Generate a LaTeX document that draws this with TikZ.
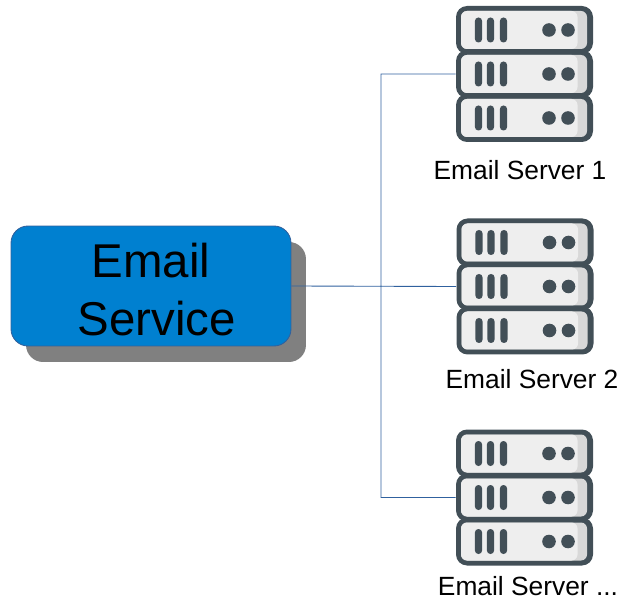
\documentclass[tikz,border=0pt]{standalone}
\usepackage{fontspec}
\setmainfont{Liberation Sans}
\usepackage{tikz}
\usetikzlibrary{shadows}
\definecolor{srvdark}{HTML}{424F57}
\definecolor{srvlight}{HTML}{EEEEEE}
\definecolor{srvshade}{HTML}{D8D8D8}
\definecolor{svcblue}{HTML}{0080D0}
\definecolor{wireblue}{HTML}{30619E}
\tikzset{
  unit/.pic={
    \fill[srvdark,rounded corners=2.2mm] (-68.5,-24) rectangle (68.5,24);
    \fill[srvshade,rounded corners=1.2mm] (-63.5,-19) rectangle (62.5,19);
    \fill[srvlight,rounded corners=1.2mm] (-63.5,-19) -- (-63.5,19) -- (53,19) -- (53,-19) -- cycle;
    \foreach \bx in {-46,-34,-21}
      \fill[srvdark,rounded corners=.7mm] (\bx-3.6,-12.5) rectangle (\bx+3.6,12.5);
    \fill[srvdark] (24.5,0) circle (6.8) (43.5,0) circle (6.8);
  },
  server/.pic={
    \pic at (0,-44) {unit};
    \pic at (0,44) {unit};
    \pic at (0,0) {unit};
  },
  label/.style={font=\fontsize{15}{18}\selectfont,inner sep=0pt},
  srvnode/.style={minimum width=2.74cm,minimum height=2.72cm,inner sep=0pt},
  wire/.style={draw=wireblue,line width=.5pt}
}
\begin{document}
\begin{tikzpicture}[x=0.02cm,y=-0.02cm]
  \useasboundingbox (0,0) rectangle (623,598);
  \path (151,286) node[draw=wireblue,line width=.5pt,fill=svcblue,rounded corners=.34cm,
        minimum width=5.6cm,minimum height=2.4cm,inner sep=0pt,align=center,
        font=\fontsize{27}{32.3}\selectfont,
        drop shadow={shadow xshift=.3cm,shadow yshift=-.32cm,fill=black!50,opacity=1}]
        (service) {\rule{0pt}{.84cm}Email\\[.03cm]\hspace*{.24cm}Service};
  \path (524.5,74) node[srvnode] (S1) {};
  \path (525,286.5) node[srvnode] (S2) {};
  \path (524.5,497.5) node[srvnode] (S3) {};
  \path (381,286.5) coordinate (J);
  \draw[wire] (service.east) -- (S2.west)
        (S1.west) -| (J)
        (S3.west) -| (J);
  \pic at (S1) {server};
  \pic at (S2) {server};
  \pic at (S3) {server};
  \path (520,170) node[label] (L1) {Email Server 1};
  \path (532,379) node[label] (L2) {Email Server 2};
  \path (528,586) node[label] (L3) {Email Server ...};
\end{tikzpicture}
\end{document}
